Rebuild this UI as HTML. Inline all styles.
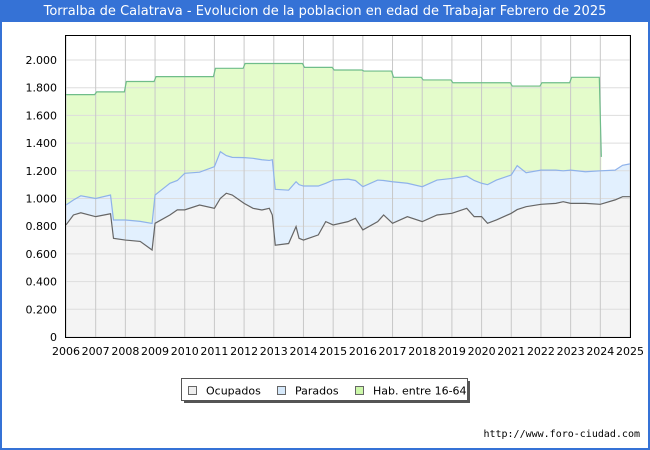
<!DOCTYPE html>
<html><head><meta charset="utf-8"><style>
body{margin:0;width:650px;height:450px;overflow:hidden;background:#fff;font-family:"DejaVu Sans","Liberation Sans",sans-serif}
#frame{position:absolute;left:0;top:0;width:646px;height:448px;border:2px solid #3572d6;border-top:none}
#title{position:absolute;left:0;top:0;width:650px;height:22px;background:#3572d6;color:#fff;font-size:13px;line-height:23px;text-align:center}
</style></head><body>
<div id="frame"></div>
<div id="title">Torralba de Calatrava - Evolucion de la poblacion en edad de Trabajar Febrero de 2025</div>
<svg id="chart" width="650" height="450" style="position:absolute;left:0;top:0"></svg>
<script>
const dates=[2006.0,2006.25,2006.5,2007.0,2007.5,2007.6,2008.0,2008.5,2008.9,2009.0,2009.5,2009.75,2010.0,2010.5,2011.0,2011.2,2011.4,2011.6,2012.0,2012.3,2012.6,2012.85,2012.95,2013.05,2013.5,2013.75,2013.85,2014.0,2014.5,2014.75,2015.0,2015.5,2015.75,2016.0,2016.5,2016.7,2017.0,2017.5,2018.0,2018.5,2019.0,2019.5,2019.75,2020.0,2020.2,2020.5,2021.0,2021.2,2021.5,2022.0,2022.5,2022.75,2023.0,2023.5,2024.0,2024.5,2024.75,2025.0];
const ocupados=[809,881,897,869,890,712,700,690,628,821,881,918,918,953,929,1001,1038,1025,965,929,917,929,881,663,675,797,713,700,737,833,809,833,857,773,833,881,821,869,833,881,893,929,869,869,821,845,893,920,941,958,965,977,965,965,958,990,1013,1013];
const activos=[953,989,1020,1000,1025,845,845,835,820,1025,1110,1130,1182,1190,1230,1338,1310,1297,1295,1290,1280,1275,1280,1066,1060,1121,1100,1090,1090,1110,1133,1140,1130,1085,1133,1130,1121,1110,1085,1133,1145,1162,1130,1110,1100,1133,1170,1237,1186,1205,1205,1200,1205,1193,1200,1205,1240,1250];
const parados=activos.map((v,i)=>v-ocupados[i]);
const habYears=[2006,2007,2008,2009,2010,2011,2012,2013,2014,2015,2016,2017,2018,2019,2020,2021,2022,2023];
const habValues=[1750,1770,1845,1880,1880,1940,1975,1975,1947,1928,1920,1875,1856,1836,1836,1812,1836,1875];
const habEnd=1300;
const yTicks=[0,200,400,600,800,1000,1200,1400,1600,1800,2000];
const xTicks=[2006,2007,2008,2009,2010,2011,2012,2013,2014,2015,2016,2017,2018,2019,2020,2021,2022,2023,2024,2025];

const L=66,R=630,T=35,B=337;
const X=t=>L+(t-2006)/(2025-2006)*(R-L);
const Y=v=>B-v*0.1385;
const svg=document.getElementById('chart');
const NS='http://www.w3.org/2000/svg';
function mk(tag,attrs,parent){const e=document.createElementNS(NS,tag);for(const k in attrs)e.setAttribute(k,attrs[k]);(parent||svg).appendChild(e);return e;}

// hab step points
const hp=[];
habYears.forEach((yr,i)=>{hp.push([X(yr)+(i?1:0),Y(habValues[i])]);hp.push([X(yr+1)-1,Y(habValues[i])]);});
hp.push([X(2024)+1,Y(habEnd)]);
const habArea=mk('path',{d:'M'+X(2006)+','+B+' '+hp.map(p=>'L'+p[0]+','+p[1]).join(' ')+' L'+(X(2024)+1)+','+B+'Z',fill:'#e4fccb',stroke:'none'});


const actPts=dates.map((d,i)=>[X(d),Y(ocupados[i]+parados[i])]);
const paradosArea=mk('path',{d:'M'+X(2006)+','+B+' '+actPts.map(p=>'L'+p[0]+','+p[1]).join(' ')+' L'+X(2025)+','+B+'Z',fill:'#e2f0fe'});


const ocPts=dates.map((d,i)=>[X(d),Y(ocupados[i])]);
const ocArea=mk('path',{d:'M'+X(2006)+','+B+' '+ocPts.map(p=>'L'+p[0]+','+p[1]).join(' ')+' L'+X(2025)+','+B+'Z',fill:'#f4f4f4'});


// grid
yTicks.forEach(v=>{
  const g=mk('line',{x1:L,x2:R,y1:Y(v),y2:Y(v),stroke:'#dddddd','stroke-width':1});
  
  
  const t=mk('text',{x:L-9,y:Y(v)+4,'text-anchor':'end','font-size':11,fill:'#000'});
  t.textContent=v===0?'0':(v/1000).toFixed(3);
  
  
});
xTicks.forEach(yr=>{
  const g=mk('line',{x1:X(yr),x2:X(yr),y1:T,y2:B,stroke:'#c8c8c8','stroke-width':1});
  
  
  const t=mk('text',{x:X(yr),y:355,'text-anchor':'middle','font-size':11,fill:'#000'});
  t.textContent=yr;
  
  
});
const habLine=mk('polyline',{points:hp.map(p=>p.join(',')).join(' '),fill:'none',stroke:'#6fbd8a','stroke-width':1.2});


const actLine=mk('polyline',{points:actPts.map(p=>p.join(',')).join(' '),fill:'none',stroke:'#8fb2ea','stroke-width':1.2});


const ocLine=mk('polyline',{points:ocPts.map(p=>p.join(',')).join(' '),fill:'none',stroke:'#666','stroke-width':1.2});


const border=mk('rect',{x:L-0.5,y:T+0.5,width:R-L+1,height:B-T,fill:'none',stroke:'#000','stroke-width':1});


// legend
const lg=mk('g',{});


mk('rect',{x:184,y:381,width:286,height:22,fill:'#555'},lg);
mk('rect',{x:181.5,y:378.5,width:286,height:22,fill:'#fff',stroke:'#555'},lg);
[['Ocupados','#eeeeee',188],['Parados','#d6e9fb',277],['Hab. entre 16-64','#ccf8a9',355]].forEach(e=>{
  const g=mk('g',{},lg);
  
  
  mk('rect',{x:e[2]+0.5,y:386.5,width:8,height:8,fill:e[1],stroke:'#666'},g);
  const t=mk('text',{x:e[2]+18,y:394.5,'font-size':11,fill:'#000'},g);
  t.textContent=e[0];
});
const ft=mk('text',{x:640,y:437,'text-anchor':'end','font-size':10,fill:'#000','font-family':'DejaVu Sans Mono, Liberation Mono, monospace'});
ft.textContent='http://www.foro-ciudad.com';


</script>
</body></html>
